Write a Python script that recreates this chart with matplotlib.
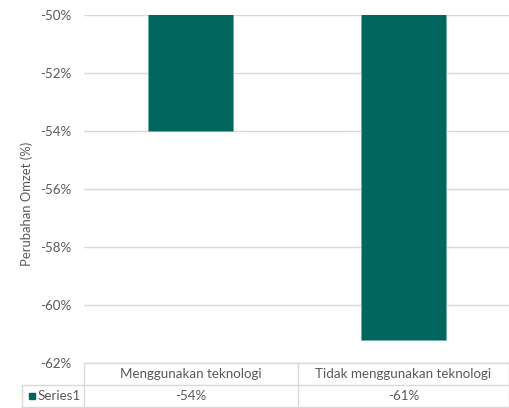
import matplotlib.pyplot as plt
from matplotlib.lines import Line2D
from matplotlib.patches import Rectangle

## DATA ##
categories = ['Menggunakan teknologi', 'Tidak menggunakan teknologi']
values = [-54.0, -61.2]
table_labels = ['-54%', '-61%']
series_name = 'Series1'
y_ticks = [-62, -60, -58, -56, -54, -52, -50]

bar_color = '#00665E'
text_color = '#595959'
grid_color = '#D9D9D9'

plt.rcParams['font.family'] = ['Lato', 'DejaVu Sans']

W, H = 510, 408
fig = plt.figure(figsize=(W / 100, H / 100), dpi=100)
ax = fig.add_axes([84 / W, 1 - 363 / H, 426 / W, 348 / H])

x = range(len(categories))
ax.bar(x, values, width=0.395, color=bar_color, edgecolor='#6FAFA9', linewidth=0.6, zorder=3)

ax.set_xlim(-0.5, len(categories) - 0.5)
ax.set_ylim(-62, -50)
ax.set_yticks(y_ticks)
ax.set_yticklabels([f'{t}%' for t in y_ticks], color=text_color, fontsize=9.6)
ax.set_xticks([])
ax.tick_params(axis='y', length=0, pad=9)
ax.grid(axis='y', color=grid_color, linewidth=1, zorder=0)
for s in ax.spines.values():
    s.set_visible(False)
ax.set_ylabel('Perubahan Omzet (%)', color=text_color, fontsize=9.4)
ax.yaxis.set_label_coords((33 - 84) / 426, (363 - 204) / 348)

## DATA TABLE BELOW THE AXIS ##
def fx(px):
    return px / W

def fy(py):
    return 1 - py / H

col_edges = [84, 298, 509]
row_lines = [363, 385, 407]
for yy in row_lines:
    x0 = 84 if yy == 363 else 22
    fig.add_artist(Line2D([fx(x0), fx(509)], [fy(yy), fy(yy)], color=grid_color, linewidth=1))
for xx in col_edges:
    fig.add_artist(Line2D([fx(xx), fx(xx)], [fy(363), fy(407)], color=grid_color, linewidth=1))
fig.add_artist(Line2D([fx(22), fx(22)], [fy(385), fy(407)], color=grid_color, linewidth=1))

for i, cat in enumerate(categories):
    cx = (col_edges[i] + col_edges[i + 1]) / 2
    fig.text(fx(cx), fy(374), cat, ha='center', va='center', color=text_color, fontsize=9.6)
    fig.text(fx(cx), fy(396), table_labels[i], ha='center', va='center', color=text_color, fontsize=9.6)

fig.add_artist(Rectangle((fx(29), fy(399)), 6 / W, 6 / H, color=bar_color))
fig.text(fx(38), fy(396), series_name, ha='left', va='center', color=text_color, fontsize=9.6)

fig.savefig('out.png', dpi=100)
